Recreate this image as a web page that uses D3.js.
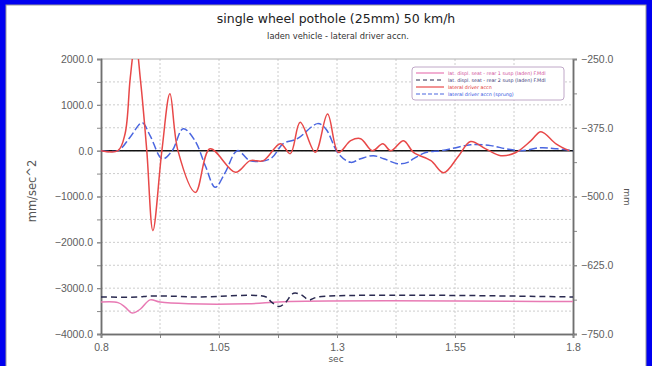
<!DOCTYPE html>
<html>
<head>
<meta charset="utf-8">
<script src="https://cdn.jsdelivr.net/npm/d3@7"></script>
<style>
  html, body { margin: 0; padding: 0; background: #0000f0; }
  svg { display: block; font-family: "DejaVu Sans", Verdana, sans-serif; }
</style>
</head>
<body>
<svg id="chart" width="652" height="366"></svg>
<script>
// lateral driver accn (left axis, mm/sec^2)
const redT = [0.80, 0.836, 0.851, 0.862, 0.873, 0.884, 0.897, 0.910, 0.929, 0.946, 0.963, 1.0, 1.031, 1.085, 1.116, 1.144, 1.180, 1.201, 1.222, 1.254, 1.280, 1.303, 1.329, 1.350, 1.375, 1.397, 1.414, 1.441, 1.462, 1.499, 1.526, 1.558, 1.583, 1.615, 1.647, 1.679, 1.711, 1.732, 1.764, 1.792];
const redV = [0, 0, 370, 1590, 2400, 1500, 0, -1745, 0, 1240, 0, -910, 40, -473, -218, -218, 153, -65, 618, -37, 800, -37, 218, 262, 0, 150, 0, 218, -37, -218, -480, -110, 200, 40, -110, -40, 218, 415, 150, 0];

const blueT = [0.80, 0.836, 0.862, 0.887, 0.904, 0.930, 0.951, 0.974, 0.999, 1.021, 1.042, 1.063, 1.089, 1.116, 1.159, 1.186, 1.216, 1.259, 1.276, 1.303, 1.329, 1.350, 1.377, 1.399, 1.428, 1.450, 1.462, 1.488, 1.520, 1.552, 1.583, 1.626, 1.658, 1.690, 1.732, 1.766, 1.80];
const blueV = [0, 0, 300, 610, 330, -180, 0, 480, 220, -330, -800, -480, 0, -218, -175, 153, 262, 590, 480, -65, -255, -175, -110, -175, -284, -255, -175, -40, 0, 65, 130, 110, 40, 0, 65, 40, 0];

// displacements (right axis, mm)
const blackT = [0.80, 0.88, 0.90, 0.94, 1.0, 1.15, 1.160, 1.177, 1.190, 1.208, 1.225, 1.240, 1.26, 1.80];
const blackV = [-682.7, -682.7, -681, -681, -682.7, -682.7, -691, -700, -693.6, -676, -679, -688, -682.7, -682.7];

const pinkT = [0.80, 0.836, 0.851, 0.866, 0.883, 0.904, 0.925, 0.985, 1.11, 1.20, 1.80];
const pinkV = [-692, -693, -701, -712, -705, -688, -692, -695, -695, -691, -691];

const xTicks = [0.8, 1.05, 1.3, 1.55, 1.8];
const xMinor = [0.8, 0.925, 1.05, 1.175, 1.3, 1.425, 1.55, 1.675, 1.8];
const yLeftTicks = [2000, 1000, 0, -1000, -2000, -3000, -4000];
const yLeftMinor = [2000, 1500, 1000, 500, 0, -500, -1000, -1500, -2000, -2500, -3000, -3500, -4000];
const yRightTicks = [-250, -375, -500, -625, -750];

const legendLabels = [
  "lat. displ. seat - rear 1 susp (laden) F.Mdl",
  "lat. displ. seat - rear 2 susp (laden) F.Mdl",
  "lateral driver accn",
  "lateral driver accn (sprung)"
];

const svg = d3.select("#chart");
const margin = { left: 101, right: 80, top: 59, bottom: 32 };
const W = 652, H = 366;

svg.append("rect").attr("x", 6).attr("y", 5).attr("width", 640).attr("height", 370)
  .attr("fill", "#fff").attr("stroke", "#999").attr("stroke-width", 1);

const x = d3.scaleLinear().domain([0.8, 1.8]).range([margin.left, W - margin.right + 1]);
const y = d3.scaleLinear().domain([-4000, 2000]).range([H - margin.bottom, margin.top]);
const y2 = d3.scaleLinear().domain([-750, -250]).range([H - margin.bottom, margin.top]);

// grid
const grid = svg.append("g");
grid.selectAll(".gx").data(xMinor.slice(1, -1)).join("line")
  .attr("x1", d => x(d)).attr("x2", d => x(d))
  .attr("y1", y(2000)).attr("y2", y(-4000))
  .attr("stroke", "#cccccc").attr("stroke-dasharray", "2,2");
grid.selectAll(".gy").data(yLeftMinor.slice(1, -1)).join("line")
  .attr("x1", x(0.8)).attr("x2", x(1.8))
  .attr("y1", d => y(d)).attr("y2", d => y(d))
  .attr("stroke", "#cccccc").attr("stroke-dasharray", "2,2");

// frame top
svg.append("line").attr("x1", x(0.8)).attr("x2", x(1.8)).attr("y1", y(2000)).attr("y2", y(2000))
  .attr("stroke", "#b0b0b0");

// axes
function styleAxis(g) {
  g.selectAll(".domain").attr("stroke", "#707070").attr("stroke-width", 1.5);
  g.selectAll(".tick line").attr("stroke", "#888");
  g.selectAll(".tick text").attr("fill", "#606060").style("font-size", "10.5px");
}

svg.append("g").attr("transform", `translate(${x(0.8)},0)`)
  .call(d3.axisLeft(y).tickValues(yLeftMinor).tickSize(4).tickFormat(""))
  .call(styleAxis);
svg.append("g").attr("transform", `translate(${x(0.8)},0)`)
  .call(d3.axisLeft(y).tickValues(yLeftTicks).tickSize(4).tickPadding(4).tickFormat(d3.format(".1f")))
  .call(styleAxis);

svg.append("g").attr("transform", `translate(${x(1.8)},0)`)
  .call(d3.axisRight(y2).tickValues(d3.range(-750, -249, 62.5)).tickSize(4).tickFormat(""))
  .call(styleAxis);
svg.append("g").attr("transform", `translate(${x(1.8)},0)`)
  .call(d3.axisRight(y2).tickValues(yRightTicks).tickSize(4).tickPadding(4).tickFormat(d3.format(".1f")))
  .call(styleAxis);

svg.append("g").attr("transform", `translate(0,${y(-4000)})`)
  .call(d3.axisBottom(x).tickValues(xMinor).tickSize(4).tickFormat(""))
  .call(styleAxis);
svg.append("g").attr("transform", `translate(0,${y(-4000)})`)
  .call(d3.axisBottom(x).tickValues(xTicks).tickSize(4).tickPadding(6).tickFormat(d => String(d)))
  .call(styleAxis);

// zero line
svg.append("line").attr("x1", x(0.8)).attr("x2", x(1.8)).attr("y1", y(0)).attr("y2", y(0))
  .attr("stroke", "#111").attr("stroke-width", 1.5);

// clip
svg.append("clipPath").attr("id", "clip").append("rect")
  .attr("x", x(0.8)).attr("y", y(2000)).attr("width", x(1.8) - x(0.8)).attr("height", y(-4000) - y(2000));

const plot = svg.append("g").attr("clip-path", "url(#clip)");

function drawSeries(ts, vs, scale, color, width, dash) {
  const pts = ts.map((t, i) => [t, vs[i]]);
  plot.append("path").datum(pts)
    .attr("fill", "none").attr("stroke", color).attr("stroke-width", width)
    .attr("stroke-dasharray", dash)
    .attr("d", d3.line().x(d => x(d[0])).y(d => scale(d[1])).curve(d3.curveCatmullRom.alpha(0.5)));
}

drawSeries(pinkT, pinkV, y2, "#e87ab4", 1.5, null);
drawSeries(blackT, blackV, y2, "#2a2a50", 1.5, "6,4");
drawSeries(blueT, blueV, y, "#4a66e0", 1.5, "8,3");
drawSeries(redT, redV, y, "#e84848", 1.5, null);

// titles
svg.append("text").attr("x", 336).attr("y", 23).attr("text-anchor", "middle")
  .style("font-size", "12.5px").attr("fill", "#222").text("single wheel pothole (25mm) 50 km/h");
svg.append("text").attr("x", 338).attr("y", 39).attr("text-anchor", "middle")
  .style("font-size", "8.3px").attr("fill", "#333").text("laden vehicle - lateral driver accn.");
svg.append("text").attr("x", 336).attr("y", 362).attr("text-anchor", "middle")
  .style("font-size", "9px").attr("fill", "#555").text("sec");
svg.append("text").attr("transform", "translate(36,191) rotate(-90)").attr("text-anchor", "middle")
  .style("font-size", "11.5px").attr("fill", "#555").text("mm/sec^2");
svg.append("text").attr("transform", "translate(624,197) rotate(90)").attr("text-anchor", "middle")
  .style("font-size", "9px").attr("fill", "#555").text("mm");

// legend
const lg = svg.append("g");
lg.append("rect").attr("x", 412).attr("y", 67).attr("width", 152).attr("height", 33).attr("rx", 3)
  .attr("fill", "#fff").attr("stroke", "#c0a8c8");
const legendStyle = [
  { c: "#e87ab4", dash: null, tc: "#d0509a" },
  { c: "#2a2a50", dash: "4,3", tc: "#3a3a78" },
  { c: "#e84848", dash: null, tc: "#e03030" },
  { c: "#4a66e0", dash: "4,2", tc: "#3050e0" }
];
legendLabels.forEach((label, i) => {
  const ly = 73 + i * 7;
  lg.append("line").attr("x1", 416).attr("x2", 444).attr("y1", ly).attr("y2", ly)
    .attr("stroke", legendStyle[i].c).attr("stroke-width", 1.2).attr("stroke-dasharray", legendStyle[i].dash);
  lg.append("text").attr("x", 448).attr("y", ly + 2).style("font-size", "4.8px")
    .attr("fill", legendStyle[i].tc).text(label);
});
</script>
</body>
</html>
